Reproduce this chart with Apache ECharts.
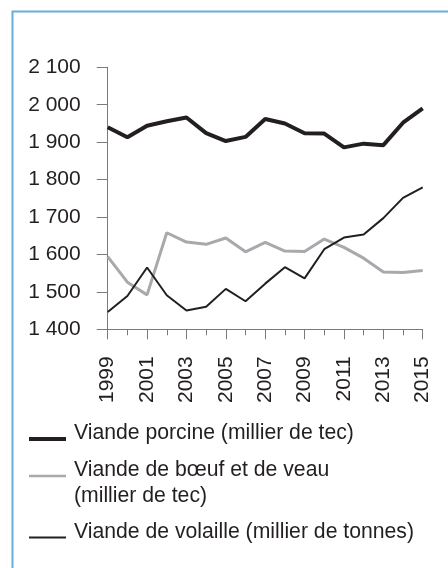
<!DOCTYPE html>
<html>
<head>
<meta charset="utf-8">
<script src="https://cdn.jsdelivr.net/npm/echarts@6/dist/echarts.min.js"></script>
<style>
  html, body { margin: 0; padding: 0; background: #fff; }
  #chart { width: 448px; height: 568px; }
</style>
</head>
<body>
<div id="chart"></div>
<script>
// années
var years = ['1999', '2000', '2001', '2002', '2003', '2004', '2005', '2006', '2007',
    '2008', '2009', '2010', '2011', '2012', '2013', '2014', '2015'];
// milliers de tec / tonnes
var porcine = [1940, 1913, 1944, 1956, 1966, 1924, 1903, 1914, 1962, 1950, 1924, 1923, 1886, 1896, 1892, 1952, 1990];
var boeuf = [1594, 1526, 1492, 1658, 1633, 1627, 1644, 1607, 1632, 1609, 1608, 1641, 1619, 1590, 1553, 1552, 1557];
var volaille = [1446, 1489, 1565, 1491, 1450, 1460, 1508, 1475, 1522, 1566, 1536, 1614, 1645, 1653, 1697, 1751, 1779];
var seriesNames = ['Viande porcine (millier de tec)', 'Viande de bœuf et de veau\n(millier de tec)', 'Viande de volaille (millier de tonnes)'];

var font = "'Liberation Sans', Arial, sans-serif";
var textColor = '#231f20';
var axisColor = '#7a7a7a';

var dom = document.getElementById('chart');
var myChart = echarts.init(dom, null, { renderer: 'canvas' });

function frLabel(v) {
    var s = String(v);
    return s.length > 3 ? s.slice(0, s.length - 3) + ' ' + s.slice(-3) : s;
}

var option = {
    backgroundColor: '#fff',
    animation: false,
    grid: { left: 107.7, right: 25.3, top: 67.3, bottom: 238.7, containLabel: false },
    xAxis: [
        {
            type: 'category',
            data: years,
            boundaryGap: false,
            axisLine: { lineStyle: { color: axisColor, width: 1 } },
            axisTick: { show: true, interval: 0, length: 6, lineStyle: { color: axisColor } },
            axisLabel: {
                interval: 1,
                rotate: 90,
                margin: 27,
                fontSize: 21,
                fontFamily: font,
                color: textColor
            },
            splitLine: { show: false }
        },
        {
            // grands traits sous les années affichées
            type: 'category',
            data: years,
            position: 'bottom',
            boundaryGap: false,
            axisLine: { show: false },
            axisTick: { show: true, interval: 1, length: 10, lineStyle: { color: axisColor } },
            axisLabel: { show: false },
            splitLine: { show: false }
        }
    ],
    yAxis: {
        type: 'value',
        min: 1400,
        max: 2100,
        interval: 100,
        axisLine: { show: true, lineStyle: { color: axisColor, width: 1 } },
        axisTick: { show: true, length: 11, lineStyle: { color: axisColor } },
        axisLabel: {
            margin: 27,
            fontSize: 21,
            fontFamily: font,
            color: textColor,
            formatter: frLabel
        },
        splitLine: { show: false }
    },
    series: [
        {
            name: seriesNames[0],
            type: 'line',
            data: porcine,
            symbol: 'none',
            lineStyle: { color: '#231f20', width: 4 },
            z: 4
        },
        {
            name: seriesNames[1],
            type: 'line',
            data: boeuf,
            symbol: 'none',
            lineStyle: { color: '#a7a9ac', width: 3 },
            z: 2
        },
        {
            name: seriesNames[2],
            type: 'line',
            data: volaille,
            symbol: 'none',
            lineStyle: { color: '#231f20', width: 2 },
            z: 3
        }
    ],
    graphic: [
        // cadre
        {
            type: 'polyline',
            shape: { points: [[12.5, 568], [12.5, 11.5], [448, 11.5]] },
            style: { stroke: '#6aaedc', lineWidth: 2, fill: null }
        },
        // légende
        { type: 'line', shape: { x1: 29, y1: 439, x2: 66, y2: 439 }, style: { stroke: '#231f20', lineWidth: 4 } },
        { type: 'text', x: 74, y: 433, style: { text: seriesNames[0], font: '21.2px ' + font, fill: textColor, verticalAlign: 'middle' } },
        { type: 'line', shape: { x1: 29, y1: 476, x2: 66, y2: 476 }, style: { stroke: '#a7a9ac', lineWidth: 2.5 } },
        { type: 'text', x: 74, y: 470, style: { text: seriesNames[1], font: '21.2px ' + font, fill: textColor, verticalAlign: 'top', lineHeight: 26, y: -13 } },
        { type: 'line', shape: { x1: 29, y1: 537.5, x2: 66, y2: 537.5 }, style: { stroke: '#231f20', lineWidth: 2 } },
        { type: 'text', x: 74, y: 532, style: { text: seriesNames[2], font: '21.2px ' + font, fill: textColor, verticalAlign: 'middle' } }
    ]
};

if (option && typeof option === 'object') {
    myChart.setOption(option, true);
}
</script>
</body>
</html>
